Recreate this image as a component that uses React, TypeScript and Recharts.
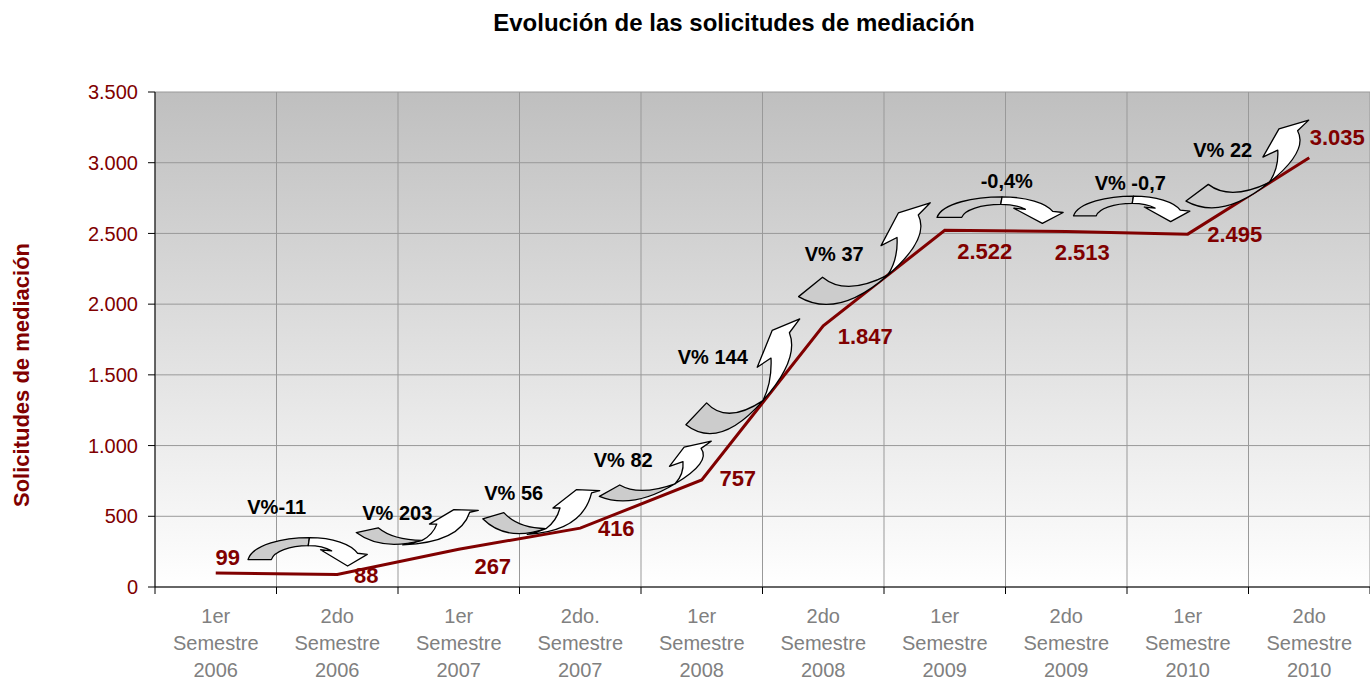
import React from "react";
import { CartesianGrid, Line, LineChart, XAxis, YAxis } from "recharts";

// semesters, one label per category (three lines each)
const semesterLabels = [
  ["1er", "Semestre", "2006"],
  ["2do", "Semestre", "2006"],
  ["1er", "Semestre", "2007"],
  ["2do.", "Semestre", "2007"],
  ["1er", "Semestre", "2008"],
  ["2do", "Semestre", "2008"],
  ["1er", "Semestre", "2009"],
  ["2do", "Semestre", "2009"],
  ["1er", "Semestre", "2010"],
  ["2do", "Semestre", "2010"],
];
const requests = [99, 88, 267, 416, 757, 1847, 2522, 2513, 2495, 3035];
const changeLabels = ["V%-11", "V% 203", "V% 56", "V% 82", "V% 144", "V% 37", "-0,4%", "V% -0,7", "V% 22"];
const yTicks = [0, 500, 1000, 1500, 2000, 2500, 3000, 3500];

const W = 1370;
const H = 682;
const Y_AXIS_W = 155;
const HALF_BAND = (W - Y_AXIS_W) / semesterLabels.length / 2;
const FONT = "Arial, 'Liberation Sans', sans-serif";
const RED = "#800000";

// label offsets from each point (text centre)
const valueOffsets = [
  [12, -16], [29, 1], [34, 17], [36, 0], [36, -2],
  [42, 11], [40, 21], [16, 21], [47, 0], [28, -20],
];

// arrow boxes relative to the point where each change starts
const arrowLayout = [
  { shape: "down", x0: 31, x1: 154, y0: -36, y1: -7, tx: 61, ty: -66 },
  { shape: "upFlat", x0: 19, x1: 141, y0: -66, y1: -29, tx: 60, ty: -62 },
  { shape: "upFlat", x0: 24, x1: 141, y0: -61, y1: -14, tx: 55, ty: -56 },
  { shape: "up", x0: 18, x1: 131, y0: -87, y1: -27, tx: 43, ty: -68 },
  { shape: "up", x0: -17, x1: 98, y0: -161, y1: -46, tx: 11, ty: -123 },
  { shape: "up", x0: -26, x1: 107, y0: -123, y1: -21, tx: 11, ty: -72 },
  { shape: "down", x0: -9, x1: 121, y0: -34, y1: -7, tx: 62, ty: -49 },
  { shape: "down", x0: 6, x1: 126, y0: -36, y1: -10, tx: 64, ty: -49 },
  { shape: "up", x0: -3, x1: 121, y0: -114, y1: -26, tx: 35, ty: -84 },
];

// unit-box outlines of the curved arrow kinds
const shapes: Record<string, { back: string; front: string }> = {
  up: {
    back: "M0.01,0.92 Q0.3,1.145 0.68,0.71 Q0.365,0.92 0.19,0.73 Z",
    front: "M0.68,0.71 Q0.76,0.55 0.75,0.34 L0.63,0.42 L0.76,0.1 L1,0 L0.91,0.12 Q1,0.35 0.68,0.71 Z",
  },
  upFlat: {
    back: "M0,0.65 Q0.2,1.15 0.54,0.86 Q0.3,0.85 0.18,0.52 Z",
    front: "M0.54,0.86 Q0.63,0.7 0.66,0.42 L0.6,0.42 L0.8,0.03 L1,0.05 L0.93,0.1 Q0.85,0.92 0.38,0.98 Q0.47,0.94 0.54,0.86 Z",
  },
  down: {
    back: "M0.01,0.78 C0.05,0.25 0.3,0.02 0.51,0.02 L0.5,0.3 C0.35,0.3 0.22,0.5 0.2,0.78 Z",
    front: "M0.51,0.02 C0.7,0.02 0.85,0.25 0.9,0.56 L0.98,0.6 L0.82,1 L0.6,0.44 L0.69,0.48 C0.65,0.38 0.6,0.3 0.5,0.3 Z",
  },
};

const rows = requests.map((v, i) => ({ pos: i + 0.5, solicitudes: v }));
const boundaries = semesterLabels.map((_, i) => i).concat(semesterLabels.length);

const fmt = (n: number) => String(n).replace(/\B(?=(\d{3})+(?!\d))/g, ".");

function SemesterTick(props: any) {
  const { x, y, payload } = props;
  const lines = semesterLabels[payload.value];
  if (!lines) return null;
  return (
    <text x={x + HALF_BAND} y={y} textAnchor="middle" fill="#808080" fontSize={20} fontFamily={FONT}>
      {lines.map((t, k) => (
        <tspan key={k} x={x + HALF_BAND} y={y + 27 + k * 27}>
          {t}
        </tspan>
      ))}
    </text>
  );
}

const pointIndex = (p: any) => (typeof p.index === "number" ? p.index : requests.indexOf(p.value));

const renderArrow = (p: any) => {
  const i = pointIndex(p);
  const a = arrowLayout[i];
  if (!a) return null;
  const s = shapes[a.shape];
  const w = a.x1 - a.x0;
  const h = a.y1 - a.y0;
  return (
    <g key={`arrow-${i}`}>
      <g transform={`translate(${p.x + a.x0},${p.y + a.y0}) scale(${w},${h})`}>
        <path d={s.back} fill="#cccccc" stroke="#000" strokeWidth={1.3} vectorEffect="non-scaling-stroke" strokeLinejoin="round" />
        <path d={s.front} fill="#ffffff" stroke="#000" strokeWidth={1.3} vectorEffect="non-scaling-stroke" strokeLinejoin="round" />
      </g>
      <text x={p.x + a.tx} y={p.y + a.ty} dy="0.35em" textAnchor="middle" fontSize={20} fontWeight="bold" fontFamily={FONT} fill="#000">
        {changeLabels[i]}
      </text>
    </g>
  );
};

const renderValue = (p: any) => {
  const i = pointIndex(p);
  const [dx, dy] = valueOffsets[i] ?? [0, -12];
  return (
    <text key={`val-${i}`} x={p.x + dx} y={p.y + dy} dy="0.35em" textAnchor="middle" fontSize={22} fontWeight="bold" fontFamily={FONT} fill={RED}>
      {fmt(requests[i])}
    </text>
  );
};

export default function App() {
  return (
    <div style={{ position: "absolute", left: 0, top: 0, width: W, height: H, background: "#fff", fontFamily: FONT }}>
      <div
        style={{
          position: "absolute", left: 0, top: 11, width: 1468, textAlign: "center",
          fontSize: 24, lineHeight: "24px", fontWeight: "bold", color: "#000",
        }}
      >
        Evolución de las solicitudes de mediación
      </div>
      <div
        style={{
          position: "absolute", left: 22 - 200, top: 375 - 13, width: 400, height: 26, lineHeight: "26px",
          textAlign: "center", transform: "rotate(-90deg)", fontSize: 22, fontWeight: "bold", color: RED,
        }}
      >
        Solicitudes de mediación
      </div>
      <LineChart width={W} height={H} data={rows} margin={{ top: 92, right: 0, bottom: 0, left: 0 }} style={{ position: "absolute", left: 0, top: 0 }}>
        <defs>
          <linearGradient id="plotBg" x1="0" y1="0" x2="0" y2="1">
            <stop offset="0%" stopColor="#bfbfbf" />
            <stop offset="100%" stopColor="#ffffff" />
          </linearGradient>
        </defs>
        <CartesianGrid fill="url(#plotBg)" fillOpacity={1} stroke="#999999" strokeWidth={1} />
        <XAxis
          dataKey="pos"
          type="number"
          domain={[0, semesterLabels.length]}
          ticks={boundaries}
          interval={0}
          height={95}
          tickSize={7}
          tick={<SemesterTick />}
          axisLine={{ stroke: "#000" }}
          tickLine={{ stroke: "#000" }}
        />
        <YAxis
          width={Y_AXIS_W}
          domain={[0, 3500]}
          ticks={yTicks}
          interval={0}
          tickFormatter={fmt}
          tickSize={7}
          tickMargin={10}
          tick={{ fill: RED, fontSize: 20, fontFamily: FONT }}
          axisLine={{ stroke: "#000" }}
          tickLine={{ stroke: "#000" }}
        />
        <Line
          dataKey="solicitudes"
          stroke="none"
          dot={false}
          activeDot={false}
          legendType="none"
          label={renderArrow}
          isAnimationActive={false}
        />
        <Line
          dataKey="solicitudes"
          type="linear"
          stroke={RED}
          strokeWidth={3}
          dot={false}
          activeDot={false}
          label={renderValue}
          isAnimationActive={false}
        />
      </LineChart>
    </div>
  );
}
